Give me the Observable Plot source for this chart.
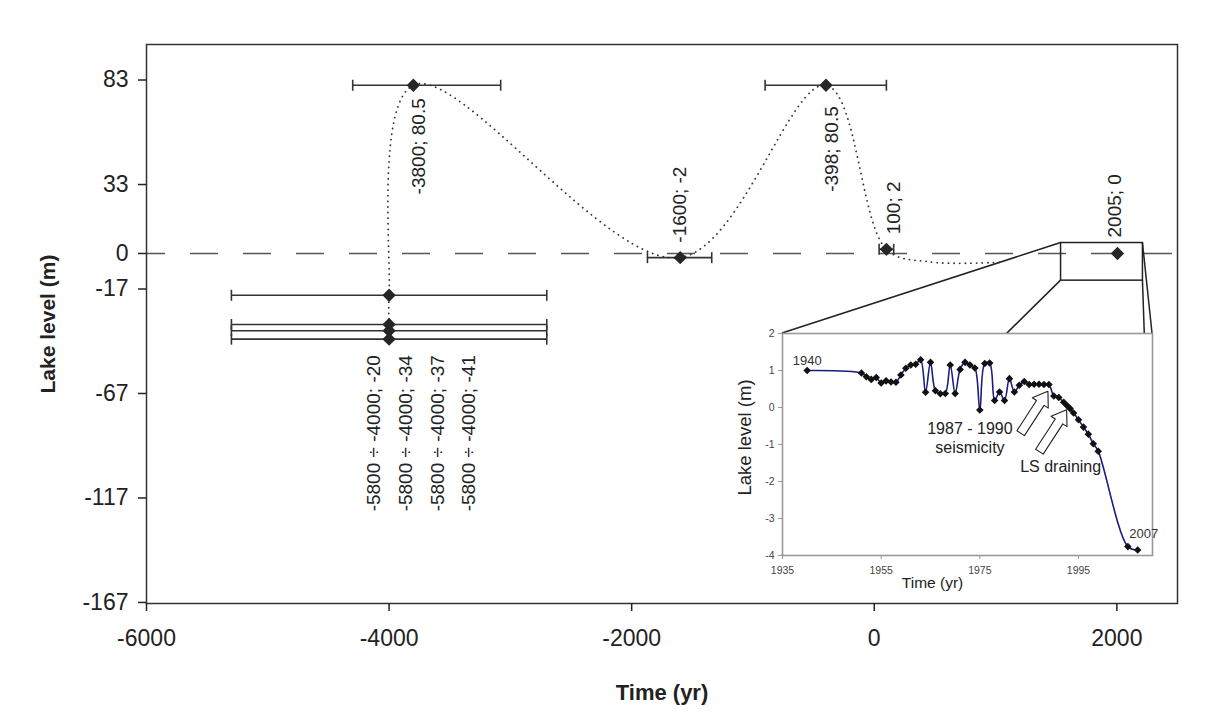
<!DOCTYPE html>
<html>
<head>
<meta charset="utf-8">
<script src="https://cdn.jsdelivr.net/npm/d3@7"></script>
<script src="https://cdn.jsdelivr.net/npm/@observablehq/plot@0.6"></script>
<style>
  html, body { margin: 0; padding: 0; background: #ffffff; }
  #wrap { position: relative; width: 1231px; height: 727px; overflow: hidden; font-family: Arial, "Liberation Sans", sans-serif; }
</style>
</head>
<body>
<div id="wrap"></div>
<script>
// ---------------- Main chart data ----------------
const pointYears  = [-4000, -4000, -4000, -4000, -3800, -1600, -398, 100, 2005];
const pointLevels = [-20, -34, -37, -41, 80.5, -2, 80.5, 2, 0];
const pointLabels = ["-5800 ÷ -4000; -20", "-5800 ÷ -4000; -34", "-5800 ÷ -4000; -37", "-5800 ÷ -4000; -41",
                     "-3800; 80.5", "-1600; -2", "-398; 80.5", "100; 2", "2005; 0"];
const errorFrom = [-5300, -5300, -5300, -5300, -4300, -1870, -900, 40, null];
const errorTo   = [-2700, -2700, -2700, -2700, -3080, -1340, 100, 160, null];

// dotted trend curve through the dated levels
const trendYears  = [-4000, -4000, -3800, -1600, -398, 100, 450, 1040];
const trendLevels = [-34, -20, 80.5, -2, 80.5, 2, -4, -4.2];

const xTicks = [-6000, -4000, -2000, 0, 2000];
const yTicks = [83, 33, 0, -17, -67, -117, -167];

// zoomed window (shown in the inset)
const zoomBoxYears  = [1540, 2215];
const zoomBoxLevels = [-13, 5];

// ---------------- Inset data ----------------
const insetYears = [1940, 1951, 1952, 1953, 1954, 1955, 1956, 1957, 1958, 1959, 1960, 1961, 1962, 1963,
  1964, 1965, 1966, 1967, 1968, 1969, 1970, 1971, 1972, 1973, 1974, 1975, 1976, 1977, 1978, 1979,
  1980, 1981, 1982, 1983, 1984, 1985, 1986, 1987, 1988, 1989, 1990, 1991, 1992, 1992.7, 1993.3,
  1994, 1995, 1996, 1997, 1998, 1999, 2005, 2007];
const insetLevels = [1.00, 0.93, 0.83, 0.76, 0.81, 0.66, 0.72, 0.69, 0.68, 0.88, 1.06, 1.15, 1.17, 1.29,
  0.41, 1.22, 0.45, 0.37, 0.38, 1.15, 0.38, 1.03, 1.22, 1.15, 1.07, -0.07, 1.19, 1.20, 0.19, 0.42,
  0.19, 0.78, 0.42, 0.60, 0.70, 0.62, 0.63, 0.63, 0.62, 0.62, 0.31, 0.27, 0.14, 0.05, -0.03,
  -0.15, -0.33, -0.53, -0.72, -0.98, -1.18, -3.76, -3.85];
const insetXTicks = [1935, 1955, 1975, 1995];
const insetYTicks = [-4, -3, -2, -1, 0, 1, 2];
const insetNoteYears = [1940, 2007];
const arrowYears  = [1988.8, 1992.6];
const arrowLevels = [0.44, -0.06];
const arrowTexts  = ["1987 - 1990\nseismicity", "LS draining"];

// ---------------- Tables built from the arrays ----------------
const points = pointYears.map((x, i) => ({x, y: pointLevels[i], label: pointLabels[i], lo: errorFrom[i], hi: errorTo[i]}));
const bars = points.filter(d => d.lo != null);
const trend = trendYears.map((x, i) => ({x, y: trendLevels[i]}));
const zoomBox = [{x1: zoomBoxYears[0], x2: zoomBoxYears[1], y1: zoomBoxLevels[0], y2: zoomBoxLevels[1]}];
const insetData = insetYears.map((x, i) => ({x, y: insetLevels[i]}));
const insetNotes = insetData.filter(d => insetNoteYears.includes(d.x)).map(d => ({...d, label: String(d.x)}));
const arrows = arrowYears.map((x, i) => ({x, y: arrowLevels[i], text: arrowTexts[i]}));

const FONT = 'Arial, "Liberation Sans", sans-serif';
const INK = "#222";
const plain = d => String(d);   // "-6000" with ASCII hyphen, no grouping

const capSymbol = {draw(ctx, size) { const h = Math.sqrt(size / Math.PI); ctx.moveTo(0, -h); ctx.lineTo(0, h); }};
const hollowArrow = {draw(ctx, l) {
  const w = 4.5, h = 9.5, hl = 14;
  ctx.moveTo(-w, 0); ctx.lineTo(-w, -(l - hl)); ctx.lineTo(-h, -(l - hl)); ctx.lineTo(0, -l);
  ctx.lineTo(h, -(l - hl)); ctx.lineTo(w, -(l - hl)); ctx.lineTo(w, 0); ctx.closePath();
}};

// label placement (screen offsets)
const groupBottom = d3.min(points.slice(0, 4), d => d.y);
const groupDx = [-15, 17, 49, 80];
const labelMarks = [];
points.slice(0, 4).forEach((d, i) => labelMarks.push(
  Plot.text([{...d, y: groupBottom}], {x: "x", y: "y", text: "label", rotate: -90, textAnchor: "end",
    dx: groupDx[i], dy: 16, fontSize: 19, fill: INK})));
const single = [
  {i: 4, anchor: "end", dx: 6, dy: 13},
  {i: 5, anchor: "start", dx: 0, dy: -15},
  {i: 6, anchor: "end", dx: 6, dy: 21},
  {i: 7, anchor: "start", dx: 8, dy: -15},
  {i: 8, anchor: "start", dx: -3, dy: -16}
];
single.forEach(s => labelMarks.push(
  Plot.text([points[s.i]], {x: "x", y: "y", text: "label", rotate: -90, textAnchor: s.anchor,
    dx: s.dx, dy: s.dy, fontSize: 19, fill: INK})));

const main = Plot.plot({
  width: 1231, height: 727,
  marginLeft: 146, marginRight: 54, marginTop: 44, marginBottom: 124,
  x: {domain: [-6000, 2500]},
  y: {domain: [-167.5, 100]},
  style: {fontFamily: FONT, fontSize: "23px", color: INK, background: "transparent", overflow: "visible"},
  marks: [
    Plot.ruleY([0], {stroke: "#555", strokeWidth: 1.6, strokeDasharray: "28,25", strokeDashoffset: 9}),
    Plot.line(trend, {x: "x", y: "y", curve: "catmull-rom", stroke: "#333", strokeWidth: 1.8,
      strokeDasharray: "0.1,5.5", strokeLinecap: "round"}),
    Plot.link(bars, {x1: "lo", x2: "hi", y1: "y", y2: "y", stroke: "#333", strokeWidth: 1.6}),
    Plot.dot(bars, {x: "lo", y: "y", symbol: capSymbol, r: 5.5, fill: "none", stroke: "#333", strokeWidth: 1.6}),
    Plot.dot(bars, {x: "hi", y: "y", symbol: capSymbol, r: 5.5, fill: "none", stroke: "#333", strokeWidth: 1.6}),
    Plot.rect(zoomBox, {x1: "x1", x2: "x2", y1: "y1", y2: "y2", fill: "none", stroke: INK, strokeWidth: 1.5}),
    Plot.dot(points, {x: "x", y: "y", symbol: "diamond2", r: 6, fill: "#262626"}),
    ...labelMarks,
    Plot.frame({stroke: "#333", strokeWidth: 1.5}),
    Plot.axisX(xTicks, {tickSize: 8, tickPadding: 18, label: null, fontSize: 23, strokeWidth: 1.5, tickFormat: plain}),
    Plot.axisY(yTicks, {tickSize: 8, tickPadding: 10, label: null, fontSize: 23, strokeWidth: 1.5, tickFormat: plain}),
    Plot.text(["Lake level (m)"], {frameAnchor: "left", textAnchor: "middle", dx: -98, rotate: -90, fontWeight: "bold", fontSize: 21, fill: INK}),
    Plot.text(["Time (yr)"], {frameAnchor: "bottom", dy: 96, fontWeight: "bold", fontSize: 22, fill: INK})
  ]
});

// ---------------- Inset ----------------
const INSET_LEFT = 730, INSET_TOP = 320;
const inset = Plot.plot({
  width: 430, height: 282,
  marginLeft: 52, marginRight: 8, marginTop: 13, marginBottom: 47,
  x: {domain: [1935, 2010]},
  y: {domain: [-4, 2]},
  style: {fontFamily: FONT, fontSize: "11px", color: "#444", background: "transparent", overflow: "visible"},
  marks: [
    Plot.frame({fill: "white", stroke: "#999", strokeWidth: 1.6}),
    Plot.axisX(insetXTicks, {tickSize: 4, tickPadding: 7, label: null, fontSize: 10.5, stroke: "#999", tickFormat: plain}),
    Plot.axisY(insetYTicks, {tickSize: 4, tickPadding: 4, label: null, fontSize: 10.5, stroke: "#999", tickFormat: plain}),
    Plot.line(insetData, {x: "x", y: "y", curve: "catmull-rom", stroke: "#1c1c80", strokeWidth: 1.6}),
    Plot.dot(insetData, {x: "x", y: "y", symbol: "diamond2", r: 3.4, fill: "#111"}),
    Plot.text(insetNotes.filter(d => d.x === insetNoteYears[0]), {x: "x", y: "y", text: "label", dy: -10, fontSize: 13, fill: "#333"}),
    Plot.text(insetNotes.filter(d => d.x === insetNoteYears[1]), {x: "x", y: "y", text: "label", dx: 6, dy: -16, fontSize: 13, fill: "#333"}),
    Plot.vector(arrows, {x: "x", y: "y", length: 50, rotate: 33, anchor: "end", shape: hollowArrow,
      fill: "white", stroke: "#222", strokeWidth: 1.1}),
    Plot.text(arrows.slice(0, 1), {x: "x", y: "y", text: "text", dx: -78, dy: 46, fontSize: 16, lineHeight: 1.2, fill: INK}),
    Plot.text(arrows.slice(1, 2), {x: "x", y: "y", text: "text", dx: -6, dy: 57, fontSize: 16, fill: INK}),
    Plot.text(["Lake level (m)"], {frameAnchor: "left", textAnchor: "middle", dx: -37, dy: -7, rotate: -90, fontSize: 18.5, fill: INK}),
    Plot.text(["Time (yr)"], {frameAnchor: "bottom", dx: -35, dy: 32, fontSize: 15.5, fill: INK})
  ]
});

// ---------------- Assemble ----------------
const wrap = document.getElementById("wrap");
main.style.position = "absolute"; main.style.left = "0px"; main.style.top = "0px";
wrap.appendChild(main);

// lines joining the zoom window to the inset frame corners
const sx = main.scale("x"), sy = main.scale("y");
const ix = inset.scale("x"), iy = inset.scale("y");
const bxL = sx.apply(zoomBoxYears[0]), bxR = sx.apply(zoomBoxYears[1]);
const byT = sy.apply(zoomBoxLevels[1]), byB = sy.apply(zoomBoxLevels[0]);
const fxL = INSET_LEFT + ix.apply(ix.domain[0]), fxR = INSET_LEFT + ix.apply(ix.domain[1]);
const fyT = INSET_TOP + iy.apply(iy.domain[1]), fyB = INSET_TOP + iy.apply(iy.domain[0]);
const overlay = d3.create("svg").attr("width", 1231).attr("height", 727)
  .style("position", "absolute").style("left", "0px").style("top", "0px");
const joins = [[bxL, byT, fxL, fyT], [bxL, byB, fxL, fyB], [bxR, byT, fxR, fyT], [bxR, byB, fxR, fyB]];
overlay.selectAll("line").data(joins).join("line")
  .attr("x1", d => d[0]).attr("y1", d => d[1]).attr("x2", d => d[2]).attr("y2", d => d[3])
  .attr("stroke", INK).attr("stroke-width", 1.5);
wrap.appendChild(overlay.node());

inset.style.position = "absolute"; inset.style.left = INSET_LEFT + "px"; inset.style.top = INSET_TOP + "px";
wrap.appendChild(inset);
</script>
</body>
</html>
